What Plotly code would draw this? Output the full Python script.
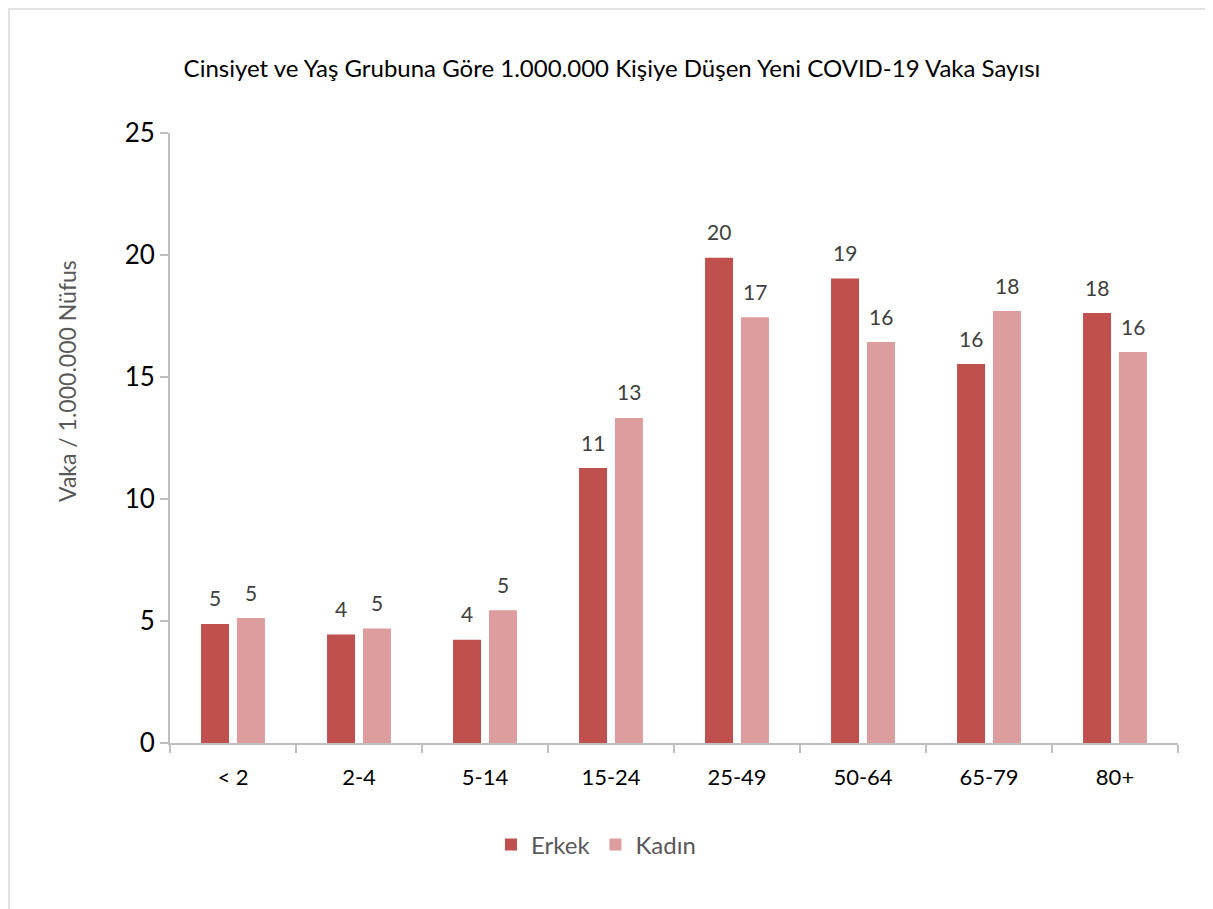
import plotly.graph_objects as go

categories = ["< 2", "2-4", "5-14", "15-24", "25-49", "50-64", "65-79", "80+"]
erkek = [4.88, 4.45, 4.23, 11.27, 19.89, 19.04, 15.53, 17.62]
kadin = [5.12, 4.69, 5.44, 13.32, 17.45, 16.43, 17.70, 16.02]
series_names = ["Erkek", "Kadın"]
colors = ["#C0504D", "#DD9C9D"]
title_text = "Cinsiyet ve Yaş Grubuna Göre 1.000.000 Kişiye Düşen Yeni COVID-19 Vaka Sayısı"
y_title = "Vaka / 1.000.000 Nüfus"
y_ticks = [0, 5, 10, 15, 20, 25]

FONT = "Lato"
PW, PH = 1008, 610  # plot area size in px

fig = go.Figure()
for name, vals, col in zip(series_names, [erkek, kadin], colors):
    fig.add_trace(go.Bar(x=categories, y=vals, name=name, marker_color=col,
                         marker_line_width=0))

annotations = []
for vals, shift in [(erkek, -18), (kadin, 18)]:
    for c, v in zip(categories, vals):
        annotations.append(dict(x=c, y=v, xref="x", yref="y", text=f"{round(v)}",
                                showarrow=False, xshift=shift, yshift=26,
                                yanchor="middle",
                                font=dict(family=FONT, size=21, color="#404040")))
annotations.append(dict(text=y_title, xref="paper", yref="paper",
                        x=(67 - 170) / PW, y=(743 - 381) / PH, textangle=-90,
                        showarrow=False, xanchor="center", yanchor="middle",
                        font=dict(family=FONT, size=23, color="#595959")))

fig.update_layout(
    width=1213, height=909,
    paper_bgcolor="white", plot_bgcolor="white",
    margin=dict(l=162, r=43, t=125, b=174),
    barmode="group", bargap=0.43, bargroupgap=0.22,
    title=dict(text=title_text, x=(612 - 8) / 1213, xref="container", xanchor="center",
               y=1 - 61 / 909, yanchor="middle",
               font=dict(family=FONT, size=24, color="#000000")),
    showlegend=True,
    legend=dict(orientation="h", x=(596 - 170) / PW, xanchor="center",
                y=-(845 - 743) / PH, yanchor="middle",
                font=dict(family=FONT, size=24, color="#595959"),
                traceorder="normal", itemwidth=30),
    annotations=annotations,
    shapes=[dict(type="rect", xref="paper", yref="paper",
                 x0=-(170 - 9) / PW, x1=1 + (1210 - 1178) / PW,
                 y0=-(930 - 743) / PH, y1=1 + (133 - 9) / PH,
                 line=dict(color="#D9D9D9", width=1.5), fillcolor="rgba(0,0,0,0)")],
)

fig.update_xaxes(showline=True, linecolor="#BFBFBF", linewidth=2,
                 ticks="outside", tickson="boundaries", ticklen=8, tickcolor="#BFBFBF",
                 tickwidth=2, showgrid=False, ticklabelstandoff=14,
                 tickfont=dict(family=FONT, size=22, color="#000000"))
fig.update_yaxes(range=[0, 25], tickvals=y_ticks, showline=True, linecolor="#BFBFBF",
                 linewidth=2, ticks="outside", ticklen=8, tickcolor="#BFBFBF",
                 tickwidth=2, showgrid=False, zeroline=False,
                 tickfont=dict(family=FONT, size=26, color="#000000"))

fig.write_html("out.html")
